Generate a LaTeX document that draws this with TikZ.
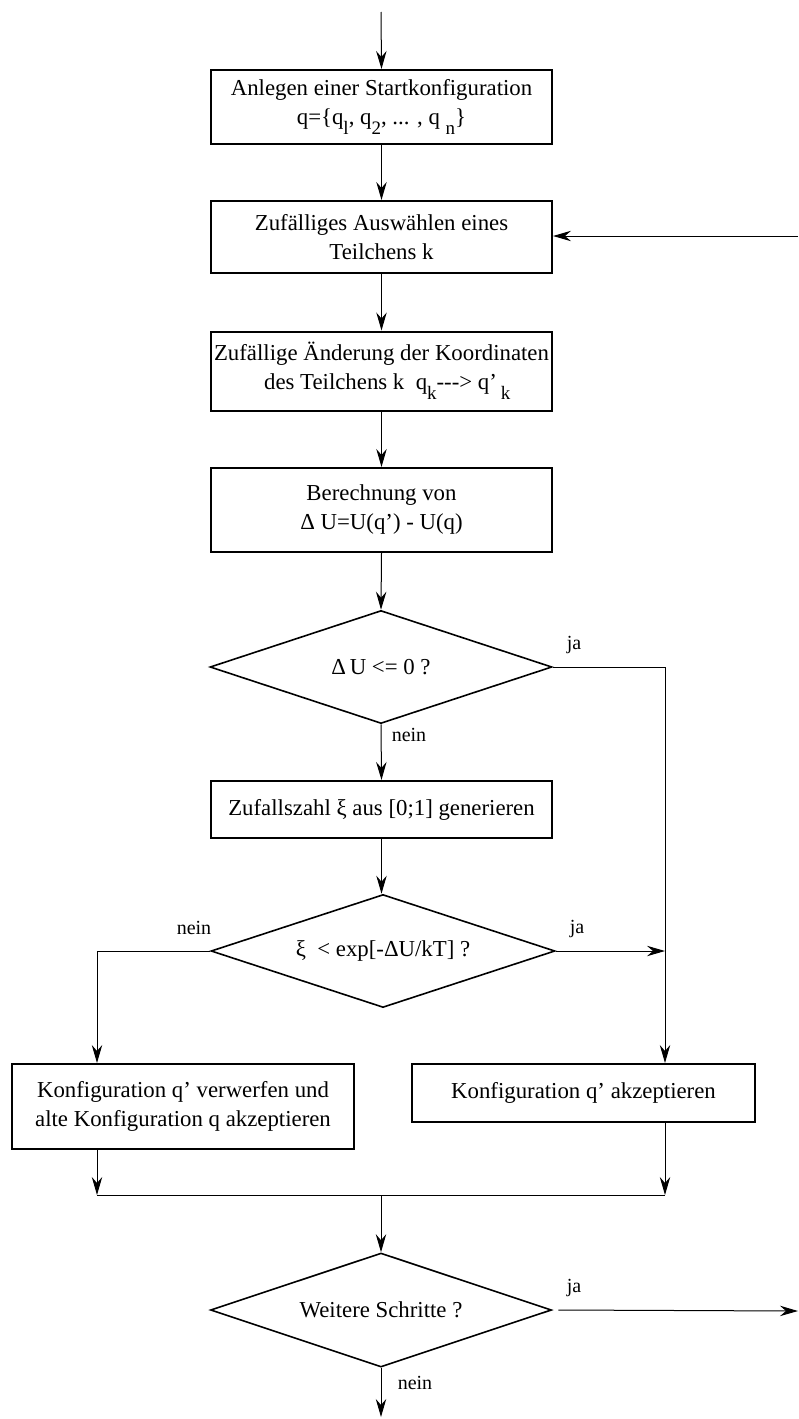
\documentclass[tikz,border=0pt]{standalone}
\usepackage{fontspec}
\setmainfont{Liberation Serif}
\usetikzlibrary{shapes.geometric,arrows.meta}
\newcommand\sbx[1]{\raisebox{-1ex}{\fontsize{9.5}{9.5}\selectfont #1}}
\begin{document}
\begin{tikzpicture}[x=0.5pt,y=-0.5pt,
  txt/.style={font=\fontsize{11.4}{14.5}\selectfont, align=center},
  box/.style={txt, draw, line width=1pt, minimum width=170.5pt, inner sep=0pt},
  dec/.style={txt, draw, shape=diamond, line width=0.8pt, inner sep=0pt, aspect=3},
  lbl/.style={font=\fontsize{10}{12}\selectfont, inner sep=0pt},
  arr/.style={line width=0.5pt, -{Stealth[length=9pt,width=5.2pt,inset=3pt]}},
  ln/.style={line width=0.5pt}]
\useasboundingbox (0,0) rectangle (798,1419);
\node[box, minimum height=37pt] (b1) at (381.5,107) {Anlegen einer Startkonfiguration\\q=\{q\sbx{l}, q\sbx{2}, ... , q \sbx{n}\}};
\node[box, minimum height=36pt] (b2) at (381.5,237) {Zufälliges Auswählen eines\\Teilchens k};
\node[box, minimum height=39.5pt] (b3) at (381.5,371) {Zufällige Änderung der Koordinaten\\ \ \ des Teilchens k \ q\sbx{k}-{}-{}-{}> q’\,\sbx{k}};
\node[box, minimum height=42pt] (b4) at (381.5,510) {Berechnung von\\Δ U=U(q’) - U(q)};
\node[dec, minimum width=171pt, minimum height=56.5pt] (d1) at (381,667) {Δ\,U <= 0 ?};
\node[box, minimum height=28.5pt] (b5) at (381.5,809.5) {Zufallszahl ξ aus [0;1] generieren};
\node[dec, minimum width=172pt, minimum height=56.5pt] (d2) at (383,951) {ξ \ < exp[-ΔU/kT] ?};
\node[box, minimum width=171pt, minimum height=42.5pt] (b6) at (183,1106.5) {Konfiguration q’ verwerfen und\\alte Konfiguration q akzeptieren};
\node[box, minimum width=171.5pt, minimum height=29pt] (b7) at (583.5,1093) {Konfiguration q’ akzeptieren};
\node[dec, minimum width=170.5pt, minimum height=57pt] (d3) at (381,1310) {Weitere Schritte ?};

\coordinate (top) at (381,12);
\coordinate (fb) at (798,236);
\coordinate (rx) at (665,0);
\coordinate (lx) at (97,0);
\coordinate (jl) at (97,1195);
\coordinate (jr) at (665,1195);
\coordinate (jm) at (381,1195);
\coordinate (outr) at (798,1311);
\coordinate (outb) at (381,1417);

\draw[arr] (top) -- (b1.north);
\draw[arr] (b1) -- (b2);
\draw[arr] (b2) -- (b3);
\draw[arr] (b3) -- (b4);
\draw[arr] (b4.south) -- (d1.north);
\draw[arr] (fb) -- (fb -| b2.east);
\draw[arr] (d1.south) -- (b5.north);
\draw[arr] (b5.south) -- (d2.north -| b5.south);
\draw[arr] (d1.east) -| (rx |- b7.north);
\draw[arr] (d2.east) -- (rx |- d2.east);
\draw[arr] (d2.west) -| (lx |- b6.north);
\draw[arr] (lx |- b6.south) -- (jl);
\draw[arr] (rx |- b7.south) -- (jr);
\draw[ln] (jl) -- (jr);
\draw[arr] (jm) -- (d3.north);
\draw[arr] ([xshift=3pt]d3.east) -- (outr);
\draw[arr] (d3.south) -- (outb);

\node[lbl] at (574,645) {ja};
\node[lbl] at (409,735) {nein};
\node[lbl] at (194,928) {nein};
\node[lbl] at (577,929) {ja};
\node[lbl] at (574,1288) {ja};
\node[lbl] at (415,1383) {nein};
\end{tikzpicture}
\end{document}
